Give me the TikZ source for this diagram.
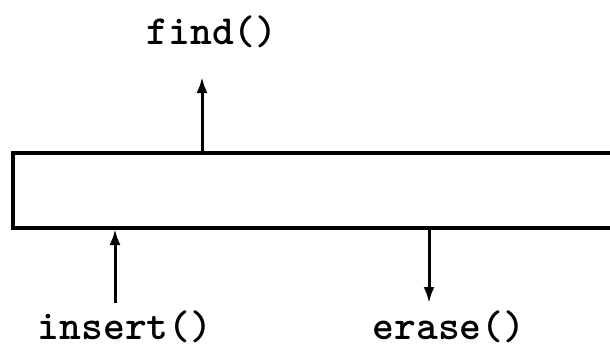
\documentclass[tikz,border=0pt]{standalone}
\usepackage{fontspec}
\usetikzlibrary{arrows.meta}
\begin{document}
\begin{tikzpicture}[x=1pt,y=-1pt,
  lbl/.style={font=\ttfamily\bfseries\fontsize{41.5}{44}\selectfont, inner sep=0pt, anchor=center},
  conn/.style={line width=3pt, -{Latex[length=16pt,width=11pt]}},
  box/.style={line width=3.8pt}]
\useasboundingbox (0,0) rectangle (610,351);
\draw[box] (612,153) -- (13,153) -- (13,228) -- (612,228);
\coordinate (ftop) at (202,153);
\coordinate (fend) at (202,77);
\coordinate (ibot) at (115,229);
\coordinate (istart) at (115,303);
\coordinate (etop) at (429,228);
\coordinate (eend) at (429,303);
\node[lbl] (find) at (212,32) {find()};
\node[lbl] (insert) at (125,327) {insert()};
\node[lbl] (erase) at (449,327) {erase()};
\draw[conn] (ftop) -- (fend);
\draw[conn] (istart) -- (ibot);
\draw[conn] (etop) -- (eend);
\end{tikzpicture}
\end{document}
